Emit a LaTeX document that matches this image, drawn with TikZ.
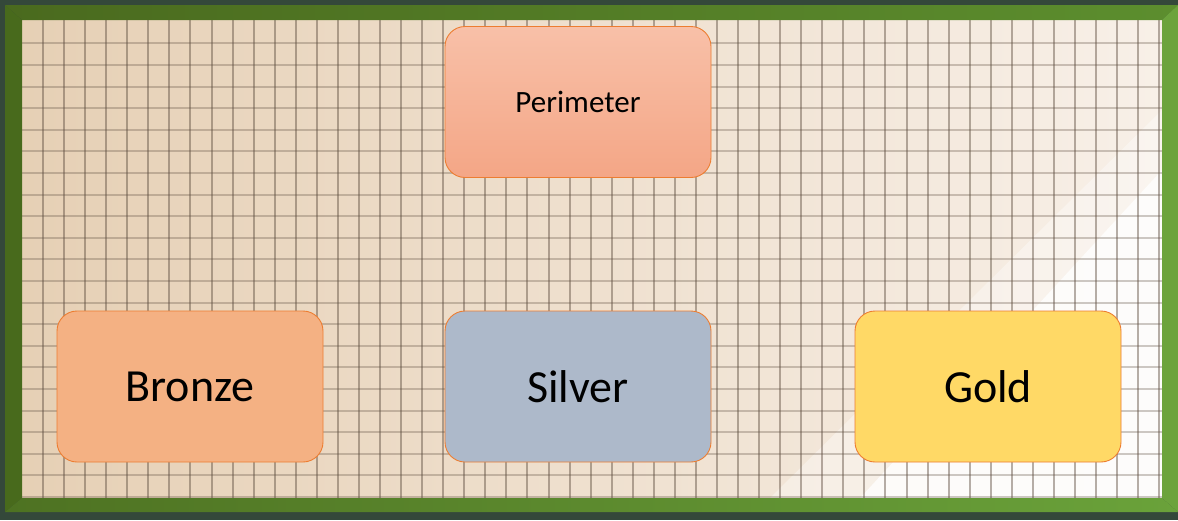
\documentclass[tikz,border=0pt]{standalone}
\usepackage{fontspec}
\setmainfont{Carlito}
\definecolor{outerbg}{HTML}{34483A}
\definecolor{frametopL}{HTML}{4A6A1E}
\definecolor{frametopR}{HTML}{5C8E2E}
\definecolor{frameleft}{HTML}{486A1C}
\definecolor{framebotL}{HTML}{4E7222}
\definecolor{framebotR}{HTML}{6AA23A}
\definecolor{frameright}{HTML}{6CA33C}
\definecolor{paperL}{HTML}{E6D0B5}
\definecolor{paperM}{HTML}{EEE0CF}
\definecolor{paperR}{HTML}{F8F0E8}
\definecolor{gridcol}{HTML}{5E4E40}
\definecolor{edgeorange}{HTML}{ED7D31}
\definecolor{perimtop}{HTML}{F8C0A8}
\definecolor{perimbot}{HTML}{F4A686}
\definecolor{bronzefill}{HTML}{F4B183}
\definecolor{silverfill}{HTML}{ADB9CA}
\definecolor{goldfill}{HTML}{FFD966}
\tikzset{
  card/.style={draw=edgeorange, line width=0.9pt, rounded corners=20pt,
    minimum width=266pt, minimum height=151pt, inner sep=0pt, text=black},
  bigtext/.style={font=\fontsize{46}{52}\selectfont},
  smalltext/.style={font=\fontsize{31}{36}\selectfont},
  vline/.style={draw=gridcol, line width=2pt, opacity=0.45},
  hline/.style={draw=gridcol, line width=2pt, opacity=0.3},
}
\begin{document}
\begin{tikzpicture}
\useasboundingbox (0pt,0pt) rectangle (1178pt,-520pt);
% outer background
\fill[outerbg] (0pt,0pt) rectangle (1178pt,-520pt);
% paper
\shade[left color=paperL, middle color=paperM, right color=paperR] (22pt,-20pt) rectangle (1162pt,-498pt);
% light patches
\fill[white, opacity=0.85] (1162pt,-170pt) -- (1162pt,-498pt) -- (860pt,-498pt) -- cycle;
\fill[white, opacity=0.35] (1162pt,-110pt) -- (1162pt,-170pt) -- (860pt,-498pt) -- (770pt,-498pt) -- cycle;
% grid
\begin{scope}
\clip (22pt,-20pt) rectangle (1162pt,-498pt);
\foreach \gx in {43.06,64.12,...,1162} {
  \draw[vline] (\gx pt,-20pt) -- (\gx pt,-498pt);
}
\foreach \gy in {43.3,64.9,...,498} {
  \draw[hline] (22pt,-\gy pt) -- (1162pt,-\gy pt);
}
\end{scope}
% frame
\shade[left color=frametopL, right color=frametopR] (5pt,-5pt) -- (1178pt,-5pt) -- (1162pt,-20pt) -- (22pt,-20pt) -- cycle;
\fill[frameleft] (5pt,-5pt) -- (22pt,-20pt) -- (22pt,-498pt) -- (5pt,-512pt) -- cycle;
\shade[left color=framebotL, right color=framebotR] (5pt,-512pt) -- (22pt,-498pt) -- (1162pt,-498pt) -- (1178pt,-512pt) -- cycle;
\fill[frameright] (1178pt,-5pt) -- (1162pt,-20pt) -- (1162pt,-498pt) -- (1178pt,-512pt) -- cycle;
% cards
\node[card, smalltext, top color=perimtop, bottom color=perimbot] (perim) at (578pt,-102pt) {Perimeter};
\node[card, bigtext, fill=bronzefill] (bronze) at (190pt,-386.5pt) {Bronze};
\node[card, bigtext, fill=silverfill] (silver) at (578pt,-386.5pt) {Silver};
\node[card, bigtext, fill=goldfill] (gold) at (988pt,-386.5pt) {Gold};
\end{tikzpicture}
\end{document}
